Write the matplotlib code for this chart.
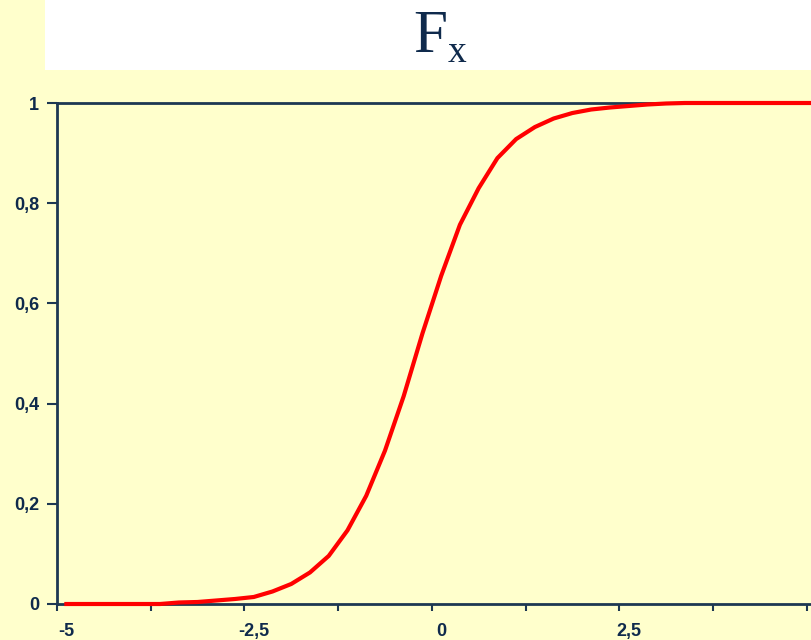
import numpy as np
import matplotlib
matplotlib.use("Agg")
import matplotlib.pyplot as plt
from matplotlib.patches import Rectangle
from matplotlib.ticker import FixedLocator, FuncFormatter

# categories of the x axis: -5 .. 5 in steps of 0.25
x_cats = np.arange(-5, 5.001, 0.25)

# distribution function values, one per category
fx = [0.0, 0.0, 0.0, 0.0, 0.0, 0.0, 0.003, 0.004, 0.007, 0.010,
      0.014, 0.025, 0.040, 0.063, 0.096, 0.147, 0.216, 0.306, 0.415, 0.540,
      0.655, 0.757, 0.830, 0.890, 0.928, 0.952, 0.969, 0.980, 0.987, 0.991,
      0.994, 0.997, 0.999, 1.0, 1.0, 1.0, 1.0, 1.0, 1.0, 1.0,
      1.0]

x_labels = [-5, -2.5, 0, 2.5]
y_labels = [0, 0.2, 0.4, 0.6, 0.8, 1]

navy = "#0f2a4c"
axis_col = "#1d3852"
bg = "#ffffcc"

plt.rcParams["font.family"] = ["Liberation Sans", "DejaVu Sans"]

fig = plt.figure(figsize=(8.11, 6.40), dpi=100, facecolor=bg)

# white title band
fig.patches.append(Rectangle((45 / 811, 1 - 70 / 640), 1 - 45 / 811, 70 / 640,
                             transform=fig.transFigure, facecolor="white",
                             edgecolor="none", zorder=0))
fig.text(413 / 811, 1 - 52 / 640, "F", family="Liberation Serif", fontsize=44,
         color=navy, ha="left", va="baseline")
fig.text(448 / 811, 1 - 62 / 640, "x", family="Liberation Serif", fontsize=27,
         color=navy, ha="left", va="baseline")

left, bottom = 57 / 811, 1 - 604 / 640
ax = fig.add_axes([left, bottom, 1 - left, (604 - 103) / 640])
ax.set_facecolor(bg)

ax.plot(x_cats, fx, color="red", lw=3, solid_joinstyle="miter", clip_on=False, zorder=3)

# x axis: value per pixel from label spacing, edges half a category outside
ax.set_xlim(-5.125, (811 - 441) / 75)
ax.set_ylim(0, 1)

# tick marks between groups of five categories, labels at every tenth
ax.xaxis.set_major_locator(FixedLocator(np.arange(-5.125, 5.2, 1.25)))
ax.xaxis.set_major_formatter(FuncFormatter(lambda v, p: ""))
ax.xaxis.set_minor_locator(FixedLocator(x_labels))
ax.xaxis.set_minor_formatter(FuncFormatter(lambda v, p: f"{v:g}".replace(".", ",")))
ax.tick_params(axis="x", which="major", direction="out", length=5, width=1.5, color=axis_col)
ax.tick_params(axis="x", which="minor", length=0, pad=14, labelsize=13, labelcolor=navy)

ax.yaxis.set_major_locator(FixedLocator(y_labels))
ax.yaxis.set_major_formatter(FuncFormatter(lambda v, p: f"{v:g}".replace(".", ",")))
ax.tick_params(axis="y", direction="out", length=7, width=1.5, color=axis_col,
               pad=6, labelsize=13, labelcolor=navy)

for lab in ax.get_xticklabels(minor=True) + ax.get_yticklabels():
    lab.set_fontweight("bold")

for side in ("left", "bottom", "top"):
    ax.spines[side].set_color(axis_col)
    ax.spines[side].set_linewidth(2)
ax.spines["right"].set_visible(False)

fig.savefig("out.png", dpi=100, facecolor=bg)
